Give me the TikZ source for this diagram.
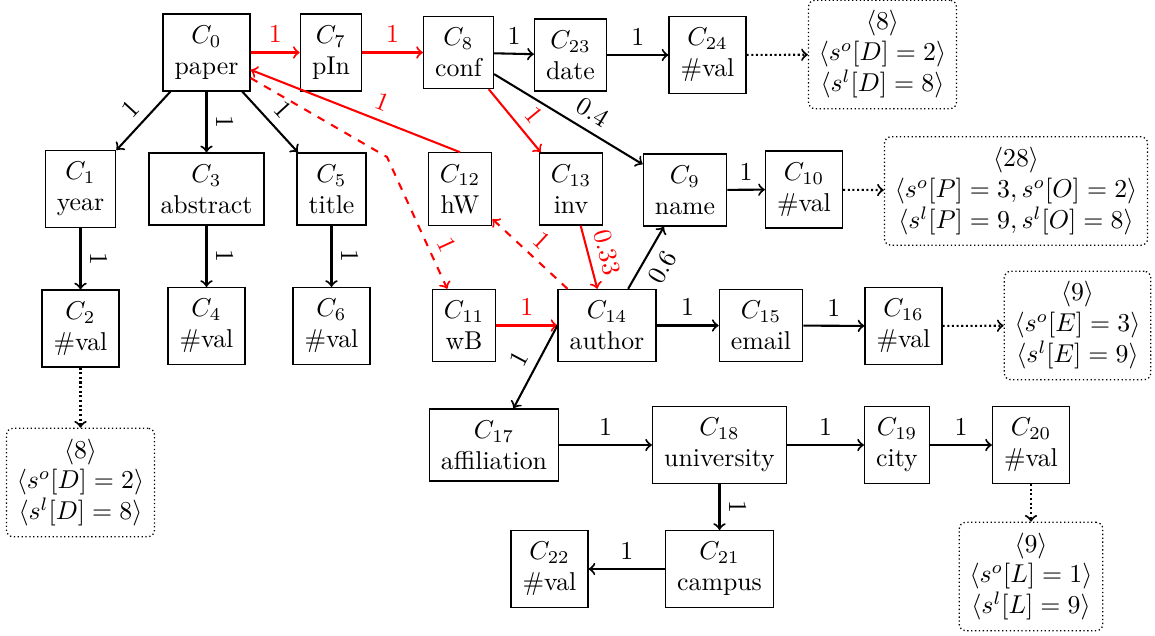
\documentclass[tikz,border=0pt]{standalone}
\usetikzlibrary{arrows}
\begin{document}
\begin{tikzpicture}[x=0.3876pt,y=-0.3876pt,
  cbox/.style={draw,line width=0.5pt,align=center,inner sep=4.5pt},
  info/.style={draw,line width=0.5pt,densely dotted,rounded corners=2.5pt,align=center,inner sep=4pt},
  e/.style={->,thick},
  re/.style={->,thick,red},
  de/.style={->,thick,densely dotted}]
\useasboundingbox (0,0) rectangle (1155,635);
% row 1
\node[cbox] (C0) at (206.5,52.5) {$C_0$\\paper};
\node[cbox] (C7) at (331,52.5) {$C_7$\\pIn};
\node[cbox] (C8) at (458.5,52.5) {$C_8$\\conf};
\node[cbox] (C23) at (570.5,55) {$C_{23}$\\date};
\node[cbox] (C24) at (707.5,55) {$C_{24}$\\\#val};
\node[info] (I1) at (882.5,54.5) {$\langle 8\rangle$\\$\langle s^o[D]=2\rangle$\\$\langle s^l[D]=8\rangle$};
% row 2
\node[cbox] (C1) at (80.5,189) {$C_1$\\year};
\node[cbox] (C3) at (206.5,189) {$C_3$\\abstract};
\node[cbox] (C5) at (331.5,189) {$C_5$\\title};
\node[cbox] (C12) at (460,189) {$C_{12}$\\hW};
\node[cbox] (C13) at (571,189) {$C_{13}$\\inv};
\node[cbox] (C9) at (685,190) {$C_9$\\name};
\node[cbox] (C10) at (804,189.5) {$C_{10}$\\\#val};
\node[info] (I2) at (1016,191) {$\langle 28\rangle$\\$\langle s^o[P]=3,s^o[O]=2\rangle$\\$\langle s^l[P]=9,s^l[O]=8\rangle$};
% row 3
\node[cbox] (C2) at (80.5,328.5) {$C_2$\\\#val};
\node[cbox] (C4) at (206.5,326) {$C_4$\\\#val};
\node[cbox] (C6) at (331.5,326) {$C_6$\\\#val};
\node[cbox] (C11) at (464,325.5) {$C_{11}$\\wB};
\node[cbox] (C14) at (607,325.5) {$C_{14}$\\author};
\node[cbox] (C15) at (761,325.5) {$C_{15}$\\email};
\node[cbox] (C16) at (903.5,326) {$C_{16}$\\\#val};
\node[info] (I3) at (1077.5,325.5) {$\langle 9\rangle$\\$\langle s^o[E]=3\rangle$\\$\langle s^l[E]=9\rangle$};
% row 4
\node[cbox] (C17) at (494,445) {$C_{17}$\\affiliation};
\node[cbox] (C18) at (719.5,445) {$C_{18}$\\university};
\node[cbox] (C19) at (897,445) {$C_{19}$\\city};
\node[cbox] (C20) at (1031,445) {$C_{20}$\\\#val};
\node[info] (I4) at (80.5,482.5) {$\langle 8\rangle$\\$\langle s^o[D]=2\rangle$\\$\langle s^l[D]=8\rangle$};
% row 5
\node[cbox] (C22) at (549.5,569) {$C_{22}$\\\#val};
\node[cbox] (C21) at (719.5,569) {$C_{21}$\\campus};
\node[info] (I5) at (1031,576.5) {$\langle 9\rangle$\\$\langle s^o[L]=1\rangle$\\$\langle s^l[L]=9\rangle$};
\coordinate (B) at (387,157);
% edges
\draw[re] (C0) -- node[above]{1} (C7);
\draw[re] (C7) -- node[above]{1} (C8);
\draw[e] (C8) -- node[above]{1} (C23);
\draw[e] (C23) -- node[above]{1} (C24);
\draw[de] (C24) -- (I1);
\draw[e] (C0) -- node[above,sloped]{1} (C1);
\draw[e] (C0) -- node[above,sloped]{1} (C3);
\draw[e] (C0) -- node[above,sloped]{1} (C5);
\draw[e] (C1) -- node[above,sloped]{1} (C2);
\draw[e] (C3) -- node[above,sloped]{1} (C4);
\draw[e] (C5) -- node[above,sloped]{1} (C6);
\draw[de] (C2) -- (I4);
\draw[re] (C12.north) -- node[above,sloped,pos=0.4]{1} (C0);
\draw[re,dashed] (C0) -- (B) -- node[above,sloped,pos=0.72]{1} (C11);
\draw[re,dashed] (C14) -- node[above,sloped]{1} (C12);
\draw[re] (C8) -- node[above,sloped,pos=0.6]{1} (C13);
\draw[re] (C13) -- node[above,sloped]{0.33} (C14);
\draw[e] (C8) -- node[above,sloped,pos=0.6]{0.4} (C9);
\draw[e] (C9) -- node[above]{1} (C10);
\draw[de] (C10) -- (I2);
\draw[re] (C11) -- node[above]{1} (C14);
\draw[e] (C14) -- node[below,sloped]{0.6} (C9);
\draw[e] (C14) -- node[above]{1} (C15);
\draw[e] (C15) -- node[above]{1} (C16);
\draw[de] (C16) -- (I3);
\draw[e] (C14.west) -- node[above,sloped]{1} (C17);
\draw[e] (C17) -- node[above]{1} (C18);
\draw[e] (C18) -- node[above]{1} (C19);
\draw[e] (C19) -- node[above]{1} (C20);
\draw[de] (C20) -- (I5);
\draw[e] (C18) -- node[above,sloped]{1} (C21);
\draw[e] (C21) -- node[above]{1} (C22);
\end{tikzpicture}
\end{document}
